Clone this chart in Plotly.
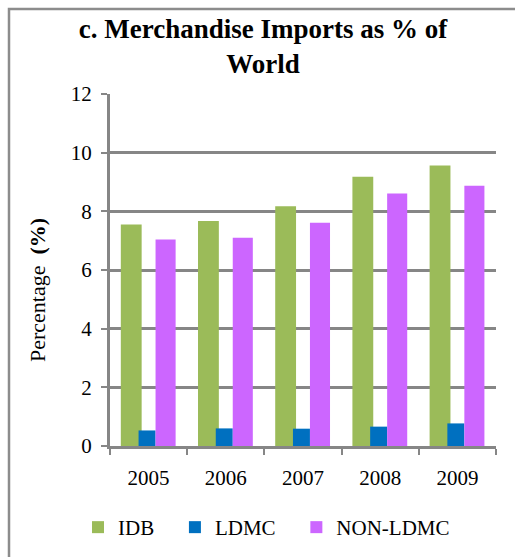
import plotly.graph_objects as go

years = ["2005", "2006", "2007", "2008", "2009"]
idb = [7.55, 7.67, 8.17, 9.18, 9.56]
ldmc = [0.53, 0.60, 0.59, 0.66, 0.77]
non_ldmc = [7.04, 7.10, 7.61, 8.61, 8.87]
y_ticks = [0, 2, 4, 6, 8, 10, 12]
series_names = ["IDB", "LDMC", "NON-LDMC"]

W, H = 515, 557
L, R, T, B = 110, 19, 94, 111
pw, ph = W - L - R, H - T - B

font = "Liberation Serif"
grid = "#868686"
fs = 21
pad = "\u00a0\u00a0\u00a0"

fig = go.Figure()
fig.add_trace(go.Bar(x=years, y=idb, name=series_names[0] + pad, marker_color="#9BBB59",
                     offset=-0.36, width=0.27, marker_line_width=0))
fig.add_trace(go.Bar(x=years, y=ldmc, name=series_names[1] + pad, marker_color="#0070C0",
                     offset=-0.13, width=0.22, marker_line_width=0))
fig.add_trace(go.Bar(x=years, y=non_ldmc, name=series_names[2], marker_color="#CC66FF",
                     offset=0.09, width=0.26, marker_line_width=0))

def px_x(x):
    return (x - L) / pw

def px_y(y):
    return 1 - (y - T) / ph

fig.update_layout(
    width=W, height=H,
    margin=dict(l=L, r=R, t=T, b=B, pad=0, autoexpand=False),
    paper_bgcolor="white", plot_bgcolor="white",
    barmode="overlay",
    font=dict(family=font, size=fs, color="black"),
    title=dict(text="<b>c. Merchandise Imports as % of<br>World</b>",
               x=px_x(263), xref="paper", xanchor="center",
               y=1 - 38 / H, yref="container", yanchor="top",
               font=dict(size=27, family=font, color="black")),
    xaxis=dict(type="category", showgrid=False, showline=True, linecolor=grid,
               linewidth=3, ticks="outside", tickson="boundaries", ticklen=6,
               tickwidth=2, tickcolor=grid, range=[-0.5, 4.5],
               ticklabelstandoff=11, automargin=False,
               tickfont=dict(size=fs, family=font, color="black")),
    yaxis=dict(range=[0, 12], tickvals=y_ticks, showgrid=True, gridcolor=grid,
               gridwidth=3, showline=True, linecolor=grid, linewidth=3,
               ticks="outside", ticklen=6, tickwidth=2, tickcolor=grid,
               ticklabelstandoff=5, automargin=False,
               zeroline=False, tickfont=dict(size=fs, family=font, color="black")),
    showlegend=True,
    legend=dict(orientation="h", x=px_x(78), xanchor="left",
                y=px_y(507), yanchor="top",
                font=dict(size=fs, family=font, color="black"),
                traceorder="normal", itemclick=False),
    annotations=[dict(text="Percentage  <b>(%)</b>", textangle=-90,
                      x=px_x(37), y=px_y(290), xref="paper", yref="paper",
                      xanchor="center", yanchor="middle", showarrow=False,
                      font=dict(size=22, family=font, color="black"))],
    shapes=[dict(type="rect", xref="paper", yref="paper",
                 x0=px_x(9), x1=px_x(530), y0=px_y(570), y1=px_y(9),
                 line=dict(color="#8C8C8C", width=2.5), layer="below")],
)

fig.write_html("out.html", config={"displayModeBar": False},
               post_script="document.body.style.margin='0';")
